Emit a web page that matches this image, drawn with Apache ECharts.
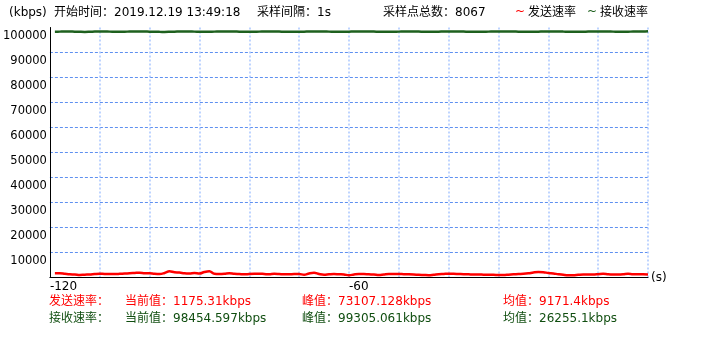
<!DOCTYPE html>
<html>
<head>
<meta charset="utf-8">
<script src="https://cdn.jsdelivr.net/npm/echarts@6/dist/echarts.min.js"></script>
<style>
html,body{margin:0;padding:0;background:#fff;}
#c{width:719px;height:357px;}
</style>
</head>
<body>
<div id="c"></div>
<script>
// ---- data ----
var seconds = [];
for (var s = -119; s <= 0; s++) seconds.push(s);
var sendRate = [
 1680,1680,1480,1280,1200,1000,1120,1200,1400,1520,
 1400,1400,1400,1480,1600,1680,1800,1920,1720,1680,
 1480,1400,1800,2480,2080,2000,1680,1600,1800,1600,
 2200,2480,1480,1400,1480,1680,1480,1400,1280,1400,
 1480,1520,1400,1280,1480,1400,1280,1280,1400,1400,
 1080,1600,1880,1400,1120,1280,1400,1280,1200,880,
 1200,1400,1400,1280,1200,1000,1200,1400,1400,1400,
 1320,1280,1200,1080,1000,920,1080,1280,1400,1520,
 1480,1400,1320,1280,1200,1200,1120,1080,1080,1000,
 1000,1120,1280,1400,1480,1680,2000,2200,2120,1800,
 1600,1320,1080,920,920,1080,1200,1200,1200,1320,
 1480,1280,1200,1200,1280,1480,1320,1320,1280,1175
];
var recvRate = [
 98300,98350,98400,98380,98320,98280,98250,98300,98360,98420,
 98400,98350,98300,98280,98320,98380,98420,98450,98400,98340,
 98300,98260,98240,98280,98340,98400,98430,98400,98350,98300,
 98280,98300,98350,98400,98440,98420,98380,98330,98290,98270,
 98300,98350,98390,98420,98400,98360,98310,98280,98260,98290,
 98340,98380,98410,98430,98400,98350,98300,98270,98290,98330,
 98380,98420,98440,98410,98370,98320,98290,98270,98300,98350,
 98390,98420,98400,98360,98310,98280,98300,98340,98380,98410,
 98430,98400,98360,98320,98290,98280,98310,98350,98390,98420,
 98440,98420,98380,98340,98300,98280,98300,98340,98370,98400,
 98420,98400,98360,98330,98300,98290,98320,98360,98400,98430,
 98410,98380,98350,98320,98300,98330,98370,98400,98430,98454
];
var xTickLabels = [-120, -60];
var seriesNames = ['发送速率', '接收速率'];
var currentVals = ['1175.31kbps', '98454.597kbps'];
var peakVals = ['73107.128kbps', '99305.061kbps'];
var avgVals = ['9171.4kbps', '26255.1kbps'];
var startTime = '2019.12.19 13:49:18';
var sampleInterval = '1s';
var sampleCount = '8067';

// ---- chart ----
var FONT = '"DejaVu Sans", "Noto Sans CJK SC", sans-serif';
var RED = '#ff0000';
var GREEN = '#1e601e';
var GREEN_TXT = '#104e10';
var VGRID = '#a9c6ff';

function pairs(vals) {
  return seconds.map(function (t, i) { return [t, vals[i]]; });
}
function txt(x, y, text, color) {
  return { type: 'text', left: x, top: y - 8, silent: true,
    style: { text: text, fill: color || '#000', font: '12px ' + FONT } };
}

var graphics = [
  txt(9, 15, '(kbps)'),
  txt(54, 15, '开始时间：' + startTime),
  txt(257, 15, '采样间隔：' + sampleInterval),
  txt(383, 15, '采样点总数：' + sampleCount),
  txt(515, 14, '~', RED),
  txt(528, 15, seriesNames[0]),
  txt(587, 14, '~', GREEN),
  txt(600, 15, seriesNames[1])
];
var rowY = [304, 321];
var rowColor = [RED, GREEN_TXT];
for (var r = 0; r < 2; r++) {
  graphics.push(txt(49, rowY[r], seriesNames[r] + '：', rowColor[r]));
  graphics.push(txt(125, rowY[r], '当前值：' + currentVals[r], rowColor[r]));
  graphics.push(txt(302, rowY[r], '峰值：' + peakVals[r], rowColor[r]));
  graphics.push(txt(503, rowY[r], '均值：' + avgVals[r], rowColor[r]));
}

var chart = echarts.init(document.getElementById('c'), null, { renderer: 'canvas' });
chart.setOption({
  animation: false,
  backgroundColor: '#fff',
  grid: { left: 48, top: 27.5, width: 600, height: 250, containLabel: false },
  xAxis: {
    type: 'value', min: -120, max: 0, interval: 10,
    name: '(s)', nameLocation: 'end', nameGap: 3,
    nameTextStyle: { fontFamily: FONT, fontSize: 12, color: '#000', padding: [0, 0, 6, 0] },
    axisLine: { show: true, onZero: false, lineStyle: { color: '#000', width: 1 } },
    axisTick: { show: false },
    axisLabel: {
      fontFamily: FONT, fontSize: 12, color: '#000', margin: 3, align: 'left',
      formatter: function (v) { return xTickLabels.indexOf(v) >= 0 ? String(v) : ''; }
    },
    splitLine: { show: true, showMinLine: false, showMaxLine: true,
      lineStyle: { color: VGRID, width: 1.5, type: [2, 2] } }
  },
  yAxis: {
    type: 'value', min: 0, max: 100000, interval: 10000,
    axisLine: { show: true, onZero: false, lineStyle: { color: '#000', width: 1 } },
    axisTick: { show: false },
    axisLabel: {
      fontFamily: FONT, fontSize: 11.5, color: '#000', margin: 3,
      verticalAlign: 'top', lineHeight: 17,
      formatter: function (v) { return v === 0 ? '' : String(v); }
    },
    splitLine: { show: true, showMinLine: true, showMaxLine: false,
      lineStyle: { color: '#5f90f0', width: 1, type: [3, 2] } }
  },
  series: [
    { name: seriesNames[1], type: 'line', data: pairs(recvRate), symbol: 'none', smooth: 0.3,
      lineStyle: { color: GREEN, width: 2.5 }, z: 3, clip: true },
    { name: seriesNames[0], type: 'line', data: pairs(sendRate), symbol: 'none', smooth: 0.4,
      lineStyle: { color: RED, width: 2.5 }, z: 4, clip: true }
  ],
  graphic: graphics
});
</script>
</body>
</html>
